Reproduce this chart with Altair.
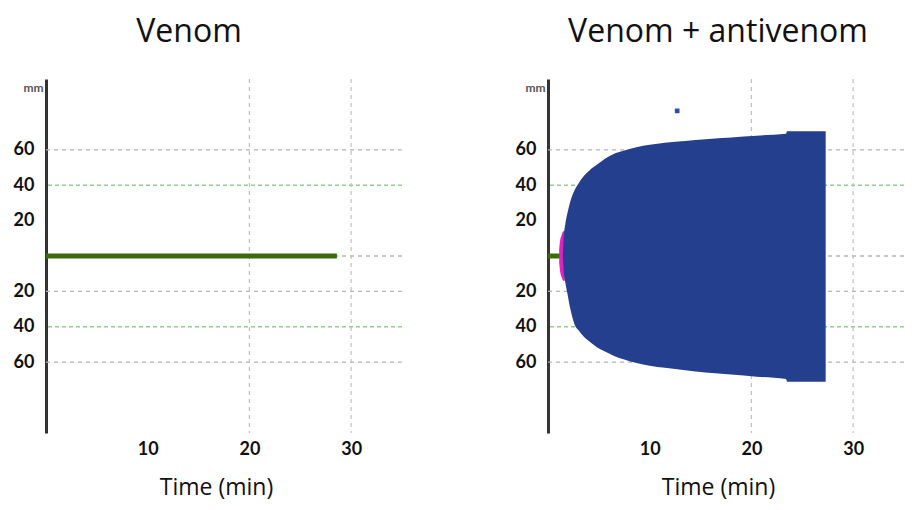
import altair as alt
import pandas as pd

# ---- text ----
left_title = "Venom"
right_title = "Venom + antivenom"
x_title = "Time (min)"
y_unit = "mm"

# ---- axes / grid values ----
x_ticks = [10, 20, 30]
y_ticks = [-60, -40, -20, 20, 40, 60]
grey_grid_y = [60, 0, -20, -60]
green_grid_y = [40, -40]
grid_x = [20, 30]

# ---- left panel: venom only (flat trace, no clot) ----
venom_t = [0, 28.6]
venom_amp = [0, 0]

# ---- right panel: venom + antivenom ----
av_flat_t = [0, 1.2]
av_flat_amp = [0, 0]

pink_t = [1.1, 1.2, 1.35, 1.5, 1.65]
pink_upper = [4, 9, 12, 14, 14]
pink_lower = [-4, -9, -12, -14, -14]

clot_t = [1.45, 1.55, 1.7, 1.9, 2.2, 2.6, 3.0, 3.5, 4.1, 4.8, 5.6, 6.5, 7.5, 8.7,
          10.0, 11.5, 13.5, 15.5, 18.0, 20.5, 23.4, 23.5, 27.3]
clot_upper = [0, 11, 18, 24, 31, 37, 41, 45, 48.5, 51.5, 55, 57.8, 59.6, 61.5,
              62.8, 64, 65, 66, 67, 68, 69, 70.5, 70.5]
clot_lower = [0, -9, -15, -21, -30, -38.5, -42, -45.5, -48.5, -51.5, -54, -56.5, -58.5, -60.5,
              -62, -63.2, -64.5, -65.8, -67, -68.2, -69.5, -71, -71]

marker_t = [12.7]
marker_amp = [82]

FONT = "Lato"
TFONT = "Open Sans"
XDOM = [0, 35]
YDOM = [-100, 100]
W, H = 356, 354

x_axis = alt.Axis(values=x_ticks, title=x_title, domain=False, ticks=False, grid=False,
                  labelFont=FONT, labelFontSize=18, labelFontWeight="bold", labelColor="#111",
                  labelPadding=7, titleFont=TFONT, titleFontSize=23, titleFontWeight="normal",
                  titleColor="#111", titlePadding=18, titleX=170)

y_axis = alt.Axis(values=y_ticks, labelExpr="abs(datum.value)", domain=True, domainColor="#333",
                  domainWidth=3, ticks=False, grid=False, labelFont=FONT, labelFontSize=18,
                  labelFontWeight="bold", labelColor="#111", labelPadding=12,
                  title=y_unit, titleAngle=0, titleAlign="right", titleBaseline="bottom",
                  titleX=-3, titleY=15, titleFont=FONT, titleFontSize=12,
                  titleFontWeight="bold", titleColor="#555")


def xs():
    return alt.X("t:Q", scale=alt.Scale(domain=XDOM, nice=False, zero=False), axis=x_axis)


def ys(field="a"):
    return alt.Y(f"{field}:Q", scale=alt.Scale(domain=YDOM, nice=False, zero=False), axis=y_axis)


def grid_layers():
    g = pd.DataFrame({"a": grey_grid_y})
    gr = pd.DataFrame({"a": green_grid_y})
    v = pd.DataFrame({"t": grid_x})
    l1 = alt.Chart(g).mark_rule(color="#b5b5b5", strokeDash=[4, 4], strokeWidth=1.3).encode(
        y=ys("a"))
    l2 = alt.Chart(gr).mark_rule(color="#8fd08f", strokeDash=[4, 3], strokeWidth=1.5).encode(
        y=ys("a"))
    l3 = alt.Chart(v).mark_rule(color="#c0c0c0", strokeDash=[4, 4], strokeWidth=1.2).encode(
        x=xs())
    return [l1, l2, l3]


def flat_line(ts, amps):
    df = pd.DataFrame({"t": ts, "a": amps})
    return alt.Chart(df).mark_line(color="#3d6b0c", strokeWidth=5, strokeCap="butt").encode(
        x=xs(), y=ys("a"))


# left panel
left = alt.layer(*grid_layers(), flat_line(venom_t, venom_amp)).properties(
    width=W, height=H,
    title=alt.TitleParams(left_title, font=TFONT, fontSize=32, fontWeight="normal",
                          color="#111", dx=-35, offset=29))

# right panel
pink_df = pd.DataFrame({"t": pink_t, "a": pink_upper, "b": pink_lower})
clot_df = pd.DataFrame({"t": clot_t, "a": clot_upper, "b": clot_lower})
mk_df = pd.DataFrame({"t": marker_t, "a": marker_amp})

pink = alt.Chart(pink_df).mark_area(color="#e020c8", opacity=1, interpolate="monotone").encode(
    x=xs(), y=ys("a"), y2="b:Q")
clot = alt.Chart(clot_df).mark_area(color="#253f8f", opacity=1, interpolate="monotone").encode(
    x=xs(), y=ys("a"), y2="b:Q")
marker = alt.Chart(mk_df).mark_square(color="#2a4fa8", size=22, opacity=1).encode(
    x=xs(), y=ys("a"))

right = alt.layer(*grid_layers(), flat_line(av_flat_t, av_flat_amp), pink, clot, marker).properties(
    width=W, height=H,
    title=alt.TitleParams(right_title, font=TFONT, fontSize=32, fontWeight="normal",
                          color="#111", dx=-8, offset=29))

chart = alt.hconcat(left, right, spacing=112).properties(
    padding={"left": 5, "top": 8, "right": 0, "bottom": 4}
).configure_view(stroke=None).configure_concat(spacing=112)

chart.save("out.html", embed_options={"renderer": "svg", "actions": False})
